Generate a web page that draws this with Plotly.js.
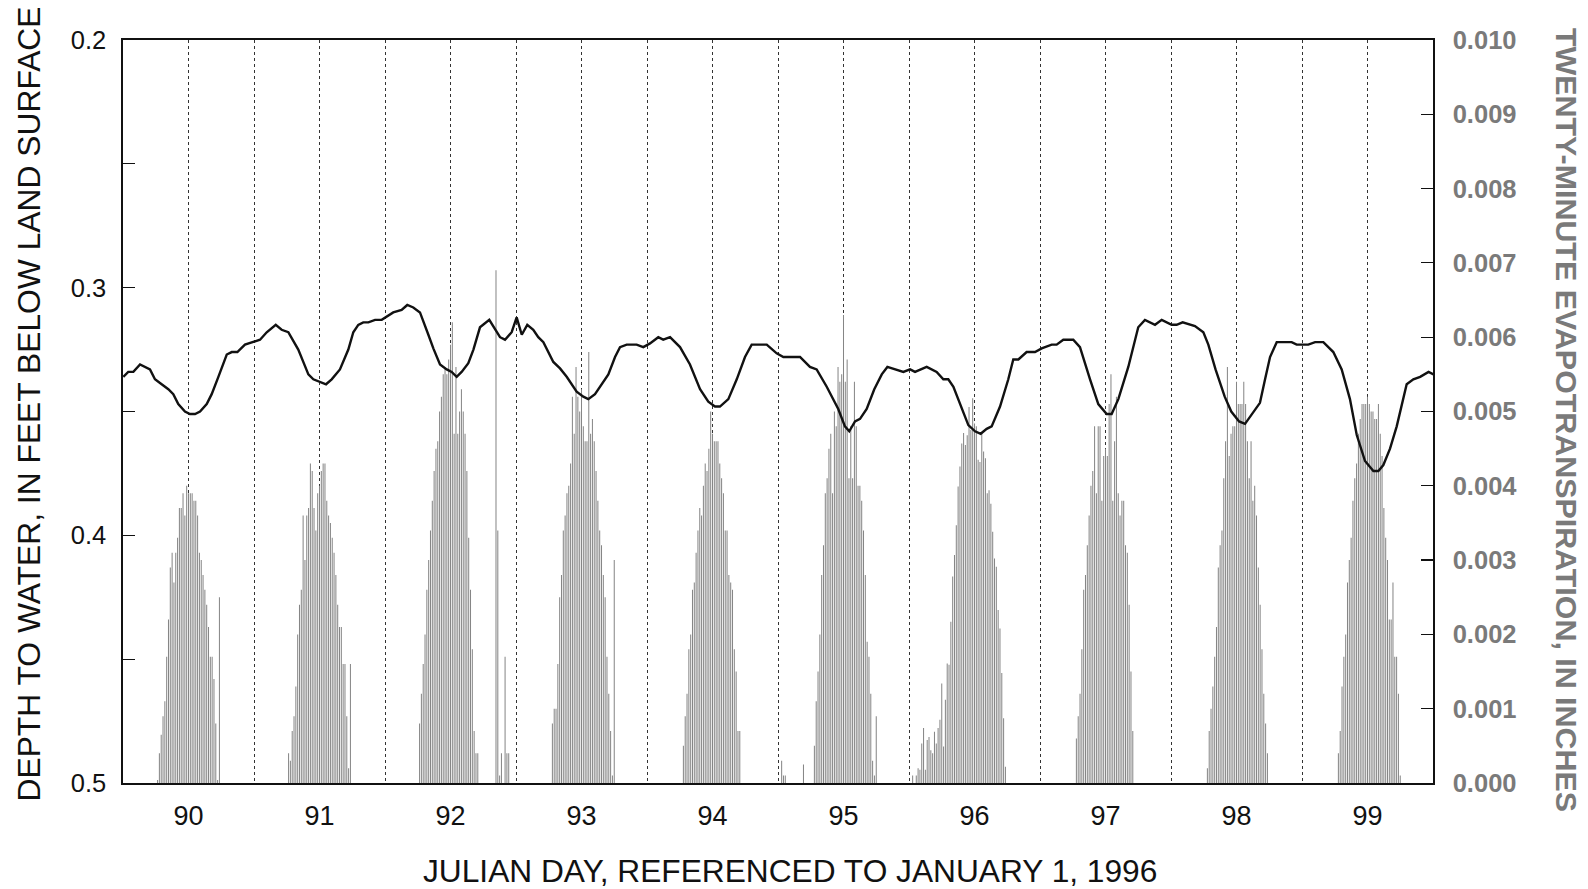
<!DOCTYPE html>
<html>
<head>
<meta charset="utf-8">
<script src="https://cdn.plot.ly/plotly-3.0.1.min.js"></script>
<style>html,body{margin:0;padding:0;background:#fff;}#chart{width:1588px;height:889px;}</style>
</head>
<body>
<div id="chart"></div>
<script>
// ---------------- DATA ----------------
// Tick labels
const dayTicks = [90, 91, 92, 93, 94, 95, 96, 97, 98, 99];
const dayLabels = ['90', '91', '92', '93', '94', '95', '96', '97', '98', '99'];
const depthTicks = [0.2, 0.25, 0.3, 0.35, 0.4, 0.45, 0.5];
const depthLabels = ['0.2', '', '0.3', '', '0.4', '', '0.5'];
const etTicks = [0, 0.001, 0.002, 0.003, 0.004, 0.005, 0.006, 0.007, 0.008, 0.009, 0.010];
const etLabels = ['0.000', '0.001', '0.002', '0.003', '0.004', '0.005', '0.006', '0.007', '0.008', '0.009', '0.010'];

// Water level: Julian day and depth to water (ft below land surface)
const wlDay = [89.502, 89.54, 89.579, 89.63, 89.706, 89.744, 89.795, 89.846, 89.884, 89.922, 89.973,
  90.011, 90.05, 90.088, 90.139, 90.177, 90.228, 90.292, 90.33, 90.373, 90.431, 90.495, 90.546, 90.597,
  90.666, 90.711, 90.762, 90.838, 90.915, 90.953, 91.004, 91.05, 91.093, 91.156, 91.22, 91.258, 91.296,
  91.334, 91.373, 91.424, 91.475, 91.563, 91.627, 91.67, 91.716, 91.767, 91.831, 91.869, 91.92, 91.971,
  92.009, 92.047, 92.085, 92.136, 92.175, 92.225, 92.296, 92.34, 92.378, 92.416, 92.467, 92.505, 92.544,
  92.586, 92.632, 92.67, 92.709, 92.785, 92.836, 92.887, 92.963, 93.014, 93.052, 93.103, 93.154, 93.205,
  93.256, 93.294, 93.345, 93.421, 93.472, 93.523, 93.586, 93.624, 93.676, 93.752, 93.828, 93.905, 93.968,
  94.019, 94.057, 94.121, 94.185, 94.248, 94.299, 94.414, 94.49, 94.541, 94.668, 94.744, 94.795, 94.872,
  94.96, 95.011, 95.044, 95.088, 95.126, 95.177, 95.235, 95.292, 95.335, 95.393, 95.457, 95.508, 95.546,
  95.635, 95.711, 95.762, 95.8, 95.839, 95.889, 95.953, 96.004, 96.047, 96.093, 96.131, 96.195, 96.258,
  96.296, 96.335, 96.398, 96.462, 96.513, 96.589, 96.627, 96.678, 96.754, 96.805, 96.882, 96.945, 97.009,
  97.047, 97.098, 97.174, 97.25, 97.301, 97.378, 97.429, 97.505, 97.543, 97.589, 97.645, 97.683, 97.747,
  97.785, 97.84, 97.91, 97.96, 98.02, 98.065, 98.116, 98.179, 98.218, 98.256, 98.307, 98.421, 98.459,
  98.548, 98.6, 98.663, 98.739, 98.803, 98.866, 98.918, 98.981, 99.045, 99.083, 99.121, 99.172, 99.223,
  99.299, 99.35, 99.402, 99.44, 99.466, 99.504];
const wlDepth = [0.336, 0.334, 0.334, 0.331, 0.333, 0.337, 0.339, 0.341, 0.343, 0.347, 0.350,
  0.351, 0.351, 0.350, 0.347, 0.343, 0.336, 0.327, 0.326, 0.326, 0.323, 0.322, 0.321, 0.318,
  0.315, 0.317, 0.318, 0.325, 0.335, 0.337, 0.338, 0.339, 0.337, 0.333, 0.325, 0.318, 0.315,
  0.314, 0.314, 0.313, 0.313, 0.310, 0.309, 0.307, 0.308, 0.310, 0.319, 0.3245, 0.331, 0.333,
  0.334, 0.336, 0.334, 0.3305, 0.325, 0.316, 0.313, 0.317, 0.320, 0.321, 0.318, 0.312, 0.319,
  0.315, 0.317, 0.320, 0.322, 0.330, 0.3326, 0.336, 0.342, 0.344, 0.345, 0.343, 0.339, 0.335,
  0.328, 0.324, 0.323, 0.323, 0.324, 0.3225, 0.320, 0.321, 0.320, 0.324, 0.331, 0.341, 0.346,
  0.348, 0.348, 0.345, 0.337, 0.328, 0.323, 0.323, 0.3265, 0.328, 0.328, 0.332, 0.333, 0.340,
  0.349, 0.356, 0.358, 0.354, 0.353, 0.349, 0.341, 0.335, 0.332, 0.333, 0.334, 0.333, 0.334,
  0.332, 0.334, 0.337, 0.337, 0.340, 0.347, 0.3555, 0.358, 0.359, 0.357, 0.356, 0.348, 0.337,
  0.329, 0.329, 0.326, 0.326, 0.3245, 0.323, 0.323, 0.321, 0.321, 0.324, 0.337, 0.347, 0.351,
  0.351, 0.345, 0.332, 0.316, 0.313, 0.315, 0.313, 0.315, 0.315, 0.314, 0.315, 0.3155, 0.318,
  0.323, 0.333, 0.344, 0.350, 0.354, 0.355, 0.3514, 0.3465, 0.337, 0.328, 0.322, 0.322, 0.323,
  0.323, 0.322, 0.322, 0.326, 0.333, 0.345, 0.3595, 0.370, 0.374, 0.374, 0.3716, 0.365, 0.356,
  0.339, 0.337, 0.336, 0.335, 0.334, 0.335];

// Twenty-minute evapotranspiration (inches). Each run of 20-minute readings
// begins on etRunDay at 20-minute interval number etRunStep (0-71).
const etRunDay  = [89, 90, 91, 92, 92, 93, 94, 94, 95, 96, 97, 98];
const etRunStep = [55, 55, 55, 25, 56, 56, 38, 56, 38, 56, 56, 56];
const etDay90 = [0.00004, 0.0004, 0.00065, 0.0009, 0.0011, 0.0017, 0.0022, 0.0029, 0.0031, 0.0027,
  0.0031, 0.0033, 0.0037, 0.0037, 0.0039, 0.0036, 0.0040, 0.0039, 0.0039, 0.0039,
  0.0038, 0.0038, 0.0036, 0.0031, 0.0030, 0.0028, 0.0026, 0.0024, 0.0021, 0.0017,
  0.0017, 0.0014, 0.0008, 0.00004, 0.0025];
const etDay91 = [0.0004, 0.0003, 0.0007, 0.0009, 0.0013, 0.0020, 0.0024, 0.0026, 0.0036, 0.0030,
  0.0036, 0.0037, 0.0043, 0.0042, 0.0037, 0.0034, 0.0039, 0.0040, 0.0042, 0.0043,
  0.0043, 0.0038, 0.0036, 0.0035, 0.0033, 0.0031, 0.0028, 0.0024, 0.0021, 0.0021,
  0.0016, 0.0016, 0.0009, 0.0002, 0.0016];
const etDay92 = [0.0008, 0.0012, 0.0016, 0.0020, 0.0026, 0.0030, 0.0034, 0.0038, 0.0042, 0.0045,
  0.0046, 0.0050, 0.0052, 0.0055, 0.0056, 0.0055, 0.0057, 0.0059, 0.0062, 0.0047,
  0.0056, 0.0047, 0.0050, 0.0053, 0.0050, 0.0047, 0.0042, 0.0033, 0.0026, 0.0018,
  0.0007, 0.0004, 0.0004];
const etDay92Late = [0.0069, 0.0034, 0.0001, 0.0004, 0, 0.0017, 0.0004, 0.0004];
const etDay93 = [0.0008, 0.0010, 0.0010, 0.0016, 0.0025, 0.0028, 0.0034, 0.0036, 0.0039, 0.0040,
  0.0043, 0.0052, 0.0047, 0.0056, 0.0052, 0.0050, 0.0053, 0.0048, 0.0046, 0.0046,
  0.0058, 0.0047, 0.0049, 0.0046, 0.0042, 0.0038, 0.0034, 0.0032, 0.0028, 0.0025,
  0.0017, 0.0012, 0.0007, 0.0001, 0.0030];
const etDay94 = [0.0005, 0.0009, 0.0012, 0.0018, 0.0020, 0.0026, 0.0027, 0.0031, 0.0034, 0.0037,
  0.0036, 0.0040, 0.0043, 0.0042, 0.0045, 0.0050, 0.0047, 0.0046, 0.0046, 0.0046,
  0.0043, 0.0041, 0.0039, 0.0034, 0.0034, 0.0028, 0.0027, 0.0026, 0.0018, 0.0015,
  0.0007, 0.0007];
const etDay94Late = [0.0003, 0.0001, 0.0001, 0, 0, 0, 0, 0, 0, 0, 0, 0, 0.00025];
const etDay95 = [0.0005, 0.0011, 0.0015, 0.0020, 0.0028, 0.0032, 0.0039, 0.0041, 0.0045, 0.0047,
  0.0039, 0.0050, 0.0048, 0.0056, 0.0054, 0.0055, 0.0063, 0.0054, 0.0057, 0.0041,
  0.0048, 0.0041, 0.0054, 0.0048, 0.0040, 0.0040, 0.0038, 0.0034, 0.0028, 0.0019,
  0.0017, 0.0012, 0.0003, 0.0001, 0.0009];
const etDay96 = [0.0001, 0, 0.0001, 0.0002, 0.00018, 0.00053, 0.00074, 0.00018, 0.00058, 0.00062,
  0.00044, 0.0004, 0.00069, 0.00053, 0.00074, 0.00085, 0.00134, 0.00049, 0.00112, 0.00161,
  0.00159, 0.00217, 0.00278, 0.00307, 0.00347, 0.00399, 0.00426, 0.00457, 0.00471, 0.00455,
  0.00468, 0.00506, 0.00475, 0.00518, 0.00484, 0.0048, 0.00435, 0.00432, 0.00471, 0.00446,
  0.00437, 0.0039, 0.00394, 0.00376, 0.00338, 0.00302, 0.00291, 0.00233, 0.00208, 0.00148,
  0.00087, 0.00022];
const etDay97 = [0.0006, 0.0009, 0.0012, 0.0018, 0.0026, 0.0028, 0.0032, 0.0036, 0.0040, 0.0042,
  0.0048, 0.0039, 0.0048, 0.0048, 0.0038, 0.0044, 0.0045, 0.0044, 0.0051, 0.0055,
  0.0038, 0.0046, 0.0052, 0.0039, 0.0036, 0.0038, 0.0038, 0.0032, 0.0031, 0.0024,
  0.0015, 0.0007];
const etDay98 = [0.0002, 0.0007, 0.0010, 0.0013, 0.0017, 0.0021, 0.0029, 0.0032, 0.0034, 0.0041,
  0.0046, 0.0056, 0.0044, 0.0047, 0.0048, 0.0048, 0.0054, 0.0051, 0.0051, 0.0051,
  0.0054, 0.0051, 0.0046, 0.0041, 0.0046, 0.0038, 0.0040, 0.0036, 0.0029, 0.0024,
  0.0018, 0.0012, 0.0008, 0.0004];
const etDay99 = [0.0004, 0.0007, 0.0013, 0.0017, 0.0020, 0.0027, 0.0030, 0.0033, 0.0038, 0.0041,
  0.0043, 0.0047, 0.0049, 0.0051, 0.0051, 0.0051, 0.0052, 0.0051, 0.0050, 0.0050,
  0.0049, 0.0049, 0.0051, 0.0047, 0.0044, 0.0037, 0.0033, 0.0030, 0.0022, 0.0022,
  0.0027, 0.0017, 0.0017, 0.0012, 0.0001];
const etRuns = [etDay90, etDay91, etDay92, etDay92Late, etDay93, etDay94, etDay94Late,
  etDay95, etDay96, etDay97, etDay98, etDay99];

// ---------------- BUILD ----------------
const etTime = [], etValue = [];
etRuns.forEach((run, r) => {
  run.forEach((v, i) => {
    etTime.push(etRunDay[r] + (etRunStep[r] + i) / 72);
    etValue.push(v);
  });
});

const FONT = 'Liberation Sans, Arial, Helvetica, sans-serif';

const traces = [
  {
    type: 'bar', x: etTime, y: etValue, xaxis: 'x', yaxis: 'y',
    width: 0.0078,
    marker: {color: '#868686', line: {width: 0}},
    hoverinfo: 'skip'
  },
  {
    type: 'scatter', mode: 'lines', x: wlDay, y: wlDepth, xaxis: 'x', yaxis: 'y2',
    line: {color: '#111', width: 2.4},
    hoverinfo: 'skip'
  }
];

const layout = {
  width: 1588, height: 889,
  margin: {l: 123, r: 155, t: 40, b: 106, pad: 0},
  paper_bgcolor: '#fff', plot_bgcolor: '#fff',
  showlegend: false,
  font: {family: FONT, color: '#111'},
  xaxis: {
    range: [89.5, 99.5], tickmode: 'array', tickvals: dayTicks, ticktext: dayLabels,
    ticks: '', showgrid: true, gridcolor: '#333', gridwidth: 1, griddash: '3px,3px',
    minor: {tick0: 89.5, dtick: 0.5, showgrid: true, gridcolor: '#333', gridwidth: 1, griddash: '3px,3px', ticks: ''},
    zeroline: false, showline: true, linecolor: '#111', linewidth: 2, mirror: true,
    tickfont: {family: FONT, size: 27, color: '#111'}, ticklabelstandoff: 8
  },
  yaxis: {
    side: 'right', range: [0, 0.01], tickmode: 'array', tickvals: etTicks, ticktext: etLabels,
    ticks: 'inside', ticklen: 12, tickwidth: 1.2, tickcolor: '#111',
    showgrid: false, zeroline: false, showline: true, linecolor: '#111', linewidth: 1.6,
    tickfont: {family: FONT, size: 25.5, color: '#7a7a7a', weight: 'bold'}, ticklabelstandoff: 13
  },
  yaxis2: {
    overlaying: 'y', side: 'left', range: [0.5, 0.2], tickmode: 'array', tickvals: depthTicks, ticktext: depthLabels,
    ticks: 'inside', ticklen: 12, tickwidth: 1.2, tickcolor: '#111',
    showgrid: false, zeroline: false, showline: true, linecolor: '#111', linewidth: 1.6,
    tickfont: {family: FONT, size: 25.5, color: '#111'}, ticklabelstandoff: 10
  },
  annotations: [
    {text: 'DEPTH TO WATER, IN FEET BELOW LAND SURFACE', xref: 'paper', yref: 'paper',
     x: -0.0714, y: 0.510, xanchor: 'center', yanchor: 'middle', textangle: -90, showarrow: false,
     font: {family: FONT, size: 31.8, color: '#111'}},
    {text: 'JULIAN DAY, REFERENCED TO JANUARY 1, 1996', xref: 'paper', yref: 'paper',
     x: 0.509, y: -0.118, xanchor: 'center', yanchor: 'middle', showarrow: false,
     font: {family: FONT, size: 31.7, color: '#111'}},
    {text: 'TWENTY-MINUTE EVAPOTRANSPIRATION, IN INCHES', xref: 'paper', yref: 'paper',
     x: 1.1023, y: 0.4886, xanchor: 'center', yanchor: 'middle', textangle: 90, showarrow: false,
     font: {family: FONT, size: 30.4, color: '#7a7a7a', weight: 'bold'}}
  ]
};

Plotly.newPlot('chart', traces, layout, {displayModeBar: false, staticPlot: true});
</script>
</body>
</html>
